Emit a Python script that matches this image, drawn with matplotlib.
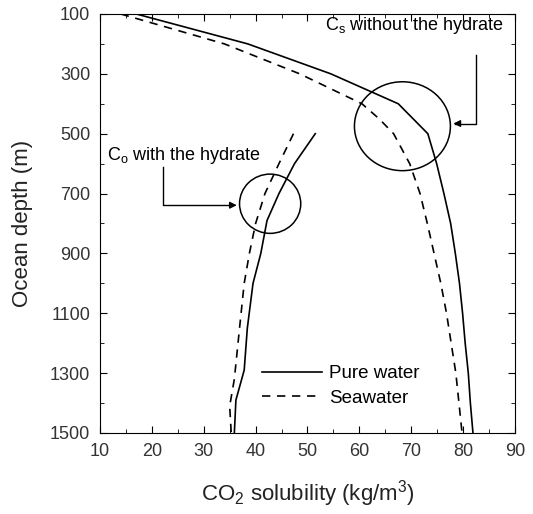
import matplotlib.pyplot as plt
import numpy as np
from matplotlib.patches import Ellipse
from matplotlib.ticker import MultipleLocator

plt.rcParams['font.family'] = ['Liberation Sans', 'DejaVu Sans']
plt.rcParams['mathtext.fontset'] = 'custom'
plt.rcParams['mathtext.rm'] = 'Liberation Sans'

# upper curves: solubility without hydrate
depth_up_pure = [100, 200, 300, 400, 500, 600, 700, 800, 900, 1000, 1100, 1200, 1300, 1400, 1500]
sol_up_pure = [17.0, 38.5, 54.5, 67.5, 73.2, 74.9, 76.3, 77.6, 78.5, 79.3, 79.9, 80.4, 81.0, 81.4, 81.9]
depth_up_sea = [100, 200, 300, 400, 450, 500, 600, 700, 800, 900, 1000, 1100, 1200, 1300, 1400, 1500]
sol_up_sea = [14.0, 34.0, 48.5, 60.5, 63.8, 66.6, 69.7, 71.7, 73.1, 74.4, 75.7, 76.8, 77.7, 78.6, 79.2, 79.8]

# lower curves: solubility with hydrate
depth_lo_pure = [500, 600, 700, 790, 900, 1000, 1150, 1290, 1390, 1500]
sol_lo_pure = [51.5, 47.5, 44.5, 42.2, 41.0, 39.5, 38.4, 37.8, 36.2, 35.9]
depth_lo_sea = [500, 600, 700, 800, 900, 1000, 1150, 1320, 1410, 1500]
sol_lo_sea = [47.3, 44.5, 41.8, 40.0, 38.8, 37.8, 36.9, 35.9, 35.0, 35.3]

fig = plt.figure(figsize=(5.33, 5.14), dpi=100)
ax = fig.add_axes([0.1876, 0.1576, 0.7786, 0.8152])

ax.plot(sol_up_pure, depth_up_pure, color='black', lw=1.2, label='Pure water')
ax.plot(sol_up_sea, depth_up_sea, color='black', lw=1.2, ls=(0, (5, 4)), label='Seawater')
ax.plot(sol_lo_pure, depth_lo_pure, color='black', lw=1.2)
ax.plot(sol_lo_sea, depth_lo_sea, color='black', lw=1.2, ls=(0, (5, 4)))

# circles marking the regions
ax.add_patch(Ellipse((42.8, 734), 11.8, 198, fill=False, lw=1.1, color='black'))
ax.add_patch(Ellipse((68.3, 475), 18.5, 297, fill=False, lw=1.1, color='black'))

# annotations
ax.text(87.8, 138, r'C$_\mathrm{s}$ without the hydrate', ha='right', va='center', fontsize=13)
ax.plot([82.5, 82.5, 78.5], [237, 466, 466], color='black', lw=1.0)
ax.annotate('', xy=(77.6, 466), xytext=(79.5, 466),
            arrowprops=dict(arrowstyle='-|>', color='black', lw=1.0, mutation_scale=10))

ax.text(11.3, 572, r'C$_\mathrm{o}$ with the hydrate', ha='left', va='center', fontsize=13)
ax.plot([22.2, 22.2, 35.0], [611, 739, 739], color='black', lw=1.0)
ax.annotate('', xy=(36.9, 739), xytext=(34.5, 739),
            arrowprops=dict(arrowstyle='-|>', color='black', lw=1.0, mutation_scale=10))

ax.legend(loc='lower left', bbox_to_anchor=(0.35, 0.022), frameon=False, fontsize=13.5,
          handlelength=3.2, handletextpad=0.35, labelspacing=0.4)

ax.set_xlim(10, 90)
ax.set_ylim(1500, 100)
ax.xaxis.set_major_locator(MultipleLocator(10))
ax.xaxis.set_minor_locator(MultipleLocator(5))
ax.yaxis.set_minor_locator(MultipleLocator(100))
ax.set_yticks(np.arange(100, 1501, 200))
ax.tick_params(which='both', direction='in', top=True, right=True, labelsize=13, pad=7,
               labelcolor='#333333')
ax.tick_params(which='major', length=5)
ax.tick_params(which='minor', length=3)

ax.set_xlabel(r'CO$_2$ solubility (kg/m$^3$)', fontsize=16, labelpad=13, color='#222222')
ax.set_ylabel('Ocean depth (m)', fontsize=16, labelpad=12, color='#222222')

fig.savefig('out.png', dpi=100)
